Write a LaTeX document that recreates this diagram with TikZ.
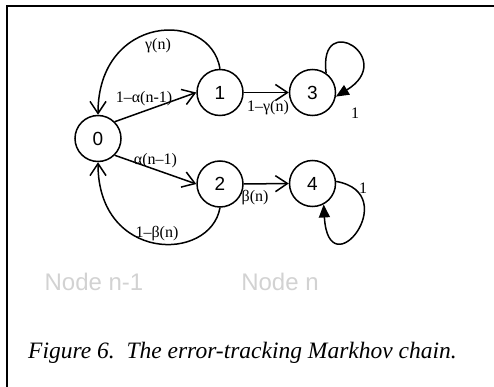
\documentclass[tikz,border=0pt]{standalone}
\usepackage{fontspec}
\setmainfont{Liberation Serif}
\newfontfamily\arialf{Liberation Sans}
\usetikzlibrary{arrows.meta}
\begin{document}
\begin{tikzpicture}[x=1pt,y=-1pt,
  state/.style={circle,draw,line width=1.5pt,minimum size=46pt,inner sep=0pt,
    font=\arialf\fontsize{19}{19}\selectfont},
  lbl/.style={font=\fontsize{16}{16}\selectfont,inner sep=0pt},
  edge/.style={line width=1.5pt,-{Straight Barb[length=12pt,width=16pt,line width=1.5pt]}},
  loopedge/.style={line width=1.5pt,-{Triangle[length=13pt,width=11pt]}},
  graylbl/.style={font=\arialf\fontsize{24}{24}\selectfont,text=gray!35,inner sep=0pt},
  caption/.style={font=\itshape\fontsize{23.5}{23.5}\selectfont,inner sep=0pt}]
\useasboundingbox (0,0) rectangle (494,387);
\coordinate (f1) at (7,387);
\coordinate (f2) at (7,6);
\coordinate (f3) at (494,6);
\draw[line width=2.2pt] (f1) -- (f2) -- (f3);

\node[state] (n0) at (98,138.5) {0};
\node[state] (n1) at (220,92.5) {1};
\node[state] (n2) at (220,184) {2};
\node[state] (n3) at (312.5,92.5) {3};
\node[state] (n4) at (312.5,183.5) {4};

\draw[edge] (n0.45) -- (n1.west);
\draw[edge] (n0.-45) -- (n2.west);
\draw[edge] (n1.east) -- (n3.west);
\draw[edge] (n2.east) -- (n4.west);
\draw[edge] (n1.north) .. controls +(-10,-60) and +(0,-100) .. (n0.north);
\draw[edge] (n2.south) .. controls +(-10,55) and +(0,100) .. (n0.south);
\draw[loopedge] (n3.55) .. controls +(-8,-64) and +(62,-38) .. (n3.-10);
\draw[loopedge] (n4.5) .. controls +(68,12) and +(5,86) .. (n4.-62);

\node[lbl] (lg) at (158,46) {γ(n)};
\node[lbl] (la) at (144,99) {1–α(n-1)};
\node[lbl] (lb) at (155.5,161) {α(n–1)};
\node[lbl] (lc) at (268,108) {1–γ(n)};
\node[lbl] (ld) at (255,198) {β(n)};
\node[lbl] (le) at (157,234) {1–β(n)};
\node[lbl] (l3) at (355,113) {1};
\node[lbl] (l4) at (363,188) {1};

\node[graylbl] (g1) at (94,282) {Node n-1};
\node[graylbl] (g2) at (280,282) {Node n};

\node[caption,anchor=base west] (cap) at (28,358) {Figure 6.\ \ The error-tracking Markhov chain.};
\end{tikzpicture}
\end{document}
